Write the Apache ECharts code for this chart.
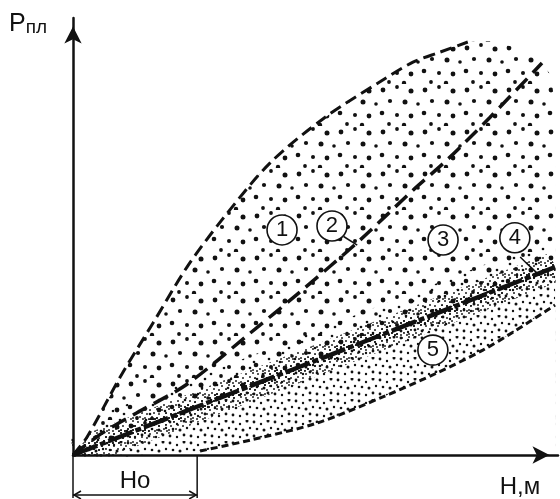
<!DOCTYPE html>
<html><head><meta charset="utf-8">
<script src="https://cdn.jsdelivr.net/npm/echarts@6/dist/echarts.min.js"></script>
<style>html,body{margin:0;padding:0;background:#fff}#c{width:560px;height:499px}</style>
</head><body><div id="c"></div>
<script>
// Data in chart units (x: 0-100 along Н, y: 0-100 along Рпл)
const upperCurve = [[0,0],[2.9,4.1],[9.7,17.8],[16.5,30.2],[23.5,43.0],[30.7,53.8],[40.6,66.8],[52.0,77.3],[63.3,85.4],[70.1,89.9],[75.7,92.2],[81.4,94.5]];
const upperEdge = [[86.0,94.7],[92.2,92.7],[96.3,89.9],[98.8,85.8],[99.4,60.0],[99.4,34.3]];
const line2 = [[0,0],[6.0,5.0],[13.1,9.6],[23.5,16.2],[36.1,27.5],[47.0,37.5],[59.2,49.2],[70.1,60.6],[77.1,67.5],[86.0,77.3],[96.7,89.7]];
const line4 = [[0,0],[46.8,20.2],[99.4,43.0]];
const lowerCurve = [[0,0],[15.9,0.2],[26.2,0.9],[36.5,3.4],[50.3,7.3],[63.9,13.3],[75.1,18.8],[84.5,24.0],[90.7,28.1],[99.4,34.3]];
const zoneLabels = ['1','2','3','4','5'];
const zonePos = [[43.1,51.5],[53.4,52.4],[76.3,49.2],[91.1,49.7],[74.2,24.0]];
const leader2 = [[55.8,50.0],[58.6,48.0]];
const leader4 = [[92.2,45.3],[93.6,43.8],[95.9,41.4]];
const H0 = 25.6;
const yTitle = 'Р';
const yTitleSub = 'пл';
const xTitle = 'Н,м';
const h0Label = 'Но';

const FONT = "'Liberation Sans', Arial, sans-serif";
const INK = '#111';

function makeTile(w, h, dots, r, bg) {
  const c = document.createElement('canvas'); c.width = w; c.height = h;
  const g = c.getContext('2d');
  if (bg) { g.fillStyle = bg; g.fillRect(0, 0, w, h); }
  g.fillStyle = INK;
  dots.forEach(d => { g.beginPath(); g.arc(d[0], d[1], d[2] || r, 0, Math.PI * 2); g.fill(); });
  return c;
}
const sparseTile = makeTile(42, 42, [[5,6,2.4],[19,3,1.9],[33,7,2.5],[12,17,2.1],[27,18,2.5],[40,20,1.8],[4,29,2.3],[19,31,2.0],[33,32,2.4],[11,40,1.9],[26,41,2.2]], 2.1, '#fff');
const mediumTile = makeTile(26, 26, [[3,10],[16,4],[23,15],[9,21],[20,24]], 1.3, null);
const denseTile = makeTile(21, 21, [[2,2,1.4],[9,4,1.2],[16,1,1.5],[5,9,1.3],[12,10,1.5],[19,8,1.2],[2,16,1.4],[9,17,1.2],[16,15,1.4]], 1.3, '#fff');
const bandTile = makeTile(12, 12, [[1,1],[6,2],[10,5],[3,6],[8,9],[1,10],[11,11],[5,11]], 0.95, null);

const chart = echarts.init(document.getElementById('c'), null, {renderer: 'canvas'});
const ls = (o) => Object.assign({color: INK, cap: 'butt'}, o);
const axisCommon = {
  type: 'value', min: 0, max: 100, z: 20,
  axisLine: {onZero: false, lineStyle: {color: INK, width: 2.5}, symbol: ['none', 'arrow'], symbolSize: [13, 17], symbolOffset: [0, -8.5]},
  axisTick: {show: false}, axisLabel: {show: false}, splitLine: {show: false}
};
const hidden = {width: 0, opacity: 0};
const option = {
  animation: false,
  backgroundColor: '#fff',
  grid: {left: 73, right: 2, top: 18, bottom: 44},
  xAxis: axisCommon,
  yAxis: axisCommon,
  series: [
    {type: 'line', data: upperCurve.concat(upperEdge), smooth: 0.3, showSymbol: false, silent: true, z: 1,
      lineStyle: hidden, areaStyle: {color: {image: sparseTile, repeat: 'repeat'}, opacity: 1}},
    {type: 'line', data: line4, showSymbol: false, silent: true, z: 2,
      lineStyle: {width: 56, color: {image: mediumTile, repeat: 'repeat'}, cap: 'butt'}},
    {type: 'line', data: line4, showSymbol: false, silent: true, z: 3,
      lineStyle: hidden, areaStyle: {color: {image: denseTile, repeat: 'repeat'}, opacity: 1}},
    {type: 'line', data: line4, showSymbol: false, silent: true, z: 3,
      lineStyle: {width: 30, color: {image: bandTile, repeat: 'repeat'}, cap: 'butt'}},
    {type: 'line', data: line4, showSymbol: false, silent: true, z: 3,
      lineStyle: {width: 12, color: {image: bandTile, repeat: 'repeat'}, cap: 'butt'}},
    {type: 'line', data: lowerCurve, smooth: 0.3, showSymbol: false, silent: true, z: 4,
      lineStyle: hidden, areaStyle: {color: '#fff', opacity: 1}},
    {type: 'line', data: upperCurve.concat(upperEdge), smooth: 0.3, showSymbol: false, silent: true, z: 4,
      lineStyle: hidden, areaStyle: {color: '#fff', opacity: 1, origin: 'end'}},
    {type: 'line', data: upperCurve, smooth: 0.3, showSymbol: false, silent: true, z: 5,
      lineStyle: ls({width: 3, type: [12, 6]})},
    {type: 'line', data: line2, smooth: 0.3, showSymbol: false, silent: true, z: 5,
      lineStyle: ls({width: 3.5, type: [16, 8]})},
    {type: 'line', data: line4, showSymbol: false, silent: true, z: 5,
      lineStyle: ls({width: 4.5, type: [26, 3, 6, 3]})},
    {type: 'line', data: lowerCurve.filter(p => p[0] >= 24), smooth: 0.3, showSymbol: false, silent: true, z: 5,
      lineStyle: ls({width: 3, type: [7, 4]})},
    {type: 'line', data: leader2, showSymbol: false, silent: true, z: 6,
      lineStyle: {color: INK, width: 1.5}},
    {type: 'line', data: leader4, smooth: 0.3, showSymbol: false, silent: true, z: 6,
      lineStyle: {color: INK, width: 1.5}},
    {type: 'scatter', silent: true, z: 10,
      data: zonePos.map((p, i) => ({value: p, name: zoneLabels[i]})),
      symbol: 'circle', symbolSize: 30,
      itemStyle: {color: '#fff', borderColor: INK, borderWidth: 1.6, opacity: 1},
      label: {show: true, position: 'inside', formatter: '{b}', color: INK, fontSize: 22, fontFamily: FONT}}
  ]
};
chart.setOption(option);

const p0 = chart.convertToPixel({gridIndex: 0}, [0, 0]);
const pH = chart.convertToPixel({gridIndex: 0}, [H0, 0]);
const pEnd = chart.convertToPixel({gridIndex: 0}, [line4[line4.length - 1][0], 0]);
const by = p0[1] + 40;
chart.setOption({
  graphic: [
    // white masks outside the plotted region (clip margins of wide strokes)
    {type: 'rect', z: 4.5, shape: {x: 0, y: 0, width: p0[0] - 1.5, height: 499}, style: {fill: '#fff'}},
    {type: 'rect', z: 4.5, shape: {x: 0, y: p0[1] + 1.5, width: 560, height: 60}, style: {fill: '#fff'}},
    {type: 'rect', z: 4.5, shape: {x: pEnd[0] + 0.5, y: 0, width: 20, height: p0[1] - 1.5}, style: {fill: '#fff'}},
    {type: 'line', z: 30, shape: {x1: p0[0], y1: p0[1], x2: p0[0], y2: by + 3}, style: {stroke: INK, lineWidth: 1.5}},
    {type: 'line', z: 30, shape: {x1: pH[0], y1: p0[1], x2: pH[0], y2: by + 3}, style: {stroke: INK, lineWidth: 1.5}},
    {type: 'line', z: 30, shape: {x1: p0[0], y1: by, x2: pH[0], y2: by}, style: {stroke: INK, lineWidth: 1.5}},
    {type: 'polyline', z: 30, shape: {points: [[p0[0] + 8, by - 4], [p0[0] + 1, by], [p0[0] + 8, by + 4]]}, style: {stroke: INK, lineWidth: 1.5, fill: null}},
    {type: 'polyline', z: 30, shape: {points: [[pH[0] - 8, by - 4], [pH[0] - 1, by], [pH[0] - 8, by + 4]]}, style: {stroke: INK, lineWidth: 1.5, fill: null}},
    {type: 'text', z: 30, x: (p0[0] + pH[0]) / 2, y: p0[1] + 26, style: {text: h0Label, font: '24px ' + FONT, fill: INK, textAlign: 'center', textVerticalAlign: 'middle'}},
    {type: 'text', z: 30, x: 520, y: 487, style: {text: xTitle, font: '24px ' + FONT, fill: INK, textAlign: 'center', textVerticalAlign: 'middle'}},
    {type: 'text', z: 30, left: 9, top: 12, style: {text: '{a|' + yTitle + '}{b|' + yTitleSub + '}', fill: INK,
      rich: {a: {fontSize: 25, fontFamily: FONT, color: INK, verticalAlign: 'bottom'}, b: {fontSize: 19, fontFamily: FONT, color: INK, verticalAlign: 'bottom'}}}}
  ]
});
</script></body></html>
